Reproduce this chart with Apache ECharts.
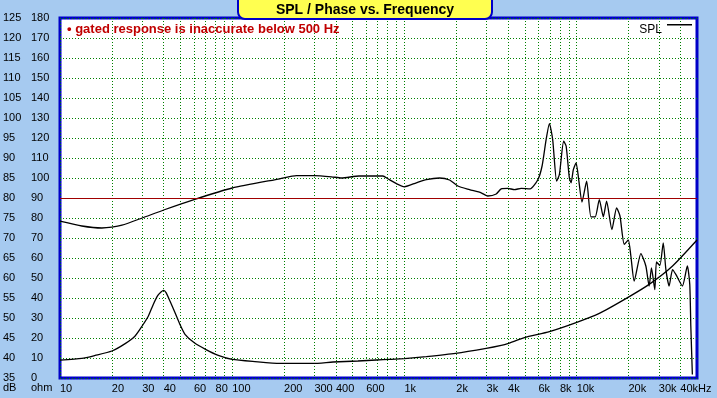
<!DOCTYPE html>
<html>
<head>
<meta charset="utf-8">
<script src="https://cdn.jsdelivr.net/npm/echarts@6.0.0/dist/echarts.min.js"></script>
<style>
html, body { margin: 0; padding: 0; background: #a6caf0; }
#chart { width: 717px; height: 398px; }
</style>
</head>
<body>
<div id="chart"></div>
<script>
// SPL curve (dB, left axis)
const splFreq = [10, 13.4, 17.5, 20, 22.9, 30, 40, 60, 100, 189, 236, 300, 377, 431, 545, 750, 802, 898, 1000, 1172, 1340, 1600, 1828, 2042, 2388, 2792, 3050, 3413, 3648, 3981, 4355, 4764, 5370, 5942, 6300, 6650, 6950, 7260, 7656, 7943, 8410, 8690, 9075, 9290, 9570, 9930, 10280, 10740, 11430, 12110, 12820, 13540, 14290, 14930, 16030, 17060, 17850, 18910, 19950, 20650, 21590, 23610, 25230, 26370, 27200, 28450, 29090, 30430, 31840, 32990, 34450, 36060, 37670, 41120, 43950, 45390, 46030, 46990]
const splDb = [74.2, 73.0, 72.5, 72.7, 73.2, 75.0, 77.0, 79.6, 82.5, 84.8, 85.6, 85.6, 85.3, 85.0, 85.5, 85.5, 84.8, 83.6, 82.8, 83.8, 84.6, 85.0, 84.5, 83.0, 82.1, 81.3, 80.5, 81.0, 82.3, 82.4, 82.1, 82.4, 82.3, 84.5, 88.0, 94.6, 98.6, 94.6, 84.2, 85.9, 94.2, 93.0, 85.0, 83.8, 87.1, 88.8, 84.6, 79.0, 84.2, 75.3, 75.3, 79.6, 75.3, 79.2, 72.1, 77.5, 75.5, 68.4, 69.5, 65.5, 59.2, 66.1, 63.0, 58.0, 62.5, 57.1, 64.0, 63.1, 68.8, 62.1, 58.0, 62.1, 60.9, 58.0, 63.0, 58.4, 48, 35.9]

// second curve (ohm, inner left axis)
const ohmFreq = [10, 13.4, 16, 20, 23.9, 27.3, 30, 32.6, 34.8, 37, 38.6, 40, 41.3, 43.5, 46.5, 49.7, 53.2, 60, 70, 83, 100, 135.5, 189, 295, 385, 537, 687, 821, 1000, 1340, 1980, 2985, 3648, 3981, 4977, 6950, 9930, 13540, 19770, 26370, 36060, 50000]
const ohmVal = [8.9, 9.8, 11.3, 13.5, 17.2, 21, 26, 31, 36.8, 41.3, 43, 43.8, 42.7, 38.5, 32.7, 26.8, 21.8, 17.7, 14.3, 11.3, 9.3, 8.2, 7.3, 7.3, 8.0, 8.5, 9.0, 9.3, 9.7, 10.7, 12.3, 14.8, 16.3, 17.2, 20.2, 23.2, 27.7, 32.3, 40.2, 46.8, 56, 69]

const freqLabels = [10, 20, 30, 40, 60, 80, 100, 200, 300, 400, 600, 1000, 2000, 3000, 4000, 6000, 8000, 10000, 20000, 30000, 40000]
const freqGrid = [10, 20, 30, 40, 50, 60, 70, 80, 90, 100, 200, 300, 400, 500, 600, 700, 800, 900, 1000, 2000, 3000, 4000, 5000, 6000, 7000, 8000, 9000, 10000, 20000, 30000, 40000]

const font = "'Liberation Sans', Arial, sans-serif"
const green = '#008000'

const chart = echarts.init(document.getElementById('chart'))
chart.setOption({
  animation: false,
  backgroundColor: '#a6caf0',
  grid: {
    left: 60,
    right: 20,
    top: 18,
    bottom: 20,
    show: true,
    backgroundColor: '#ffffff',
    borderColor: '#0000c8',
    borderWidth: 3,
    outerBoundsMode: 'none'
  },
  graphic: [
    {
      type: 'rect',
      shape: { x: 238, y: -10, width: 254, height: 29, r: 7 },
      style: { fill: '#ffff50', stroke: '#0000c8', lineWidth: 2 },
      z: 100
    },
    {
      type: 'text',
      x: 365,
      y: 10,
      style: {
        text: 'SPL / Phase vs. Frequency',
        align: 'center',
        verticalAlign: 'middle',
        font: 'bold 14px ' + font,
        fill: '#000'
      },
      z: 101
    },
    {
      type: 'text',
      x: 67,
      y: 29,
      style: {
        text: '• gated response is inaccurate below 500 Hz',
        verticalAlign: 'middle',
        font: 'bold 13px ' + font,
        fill: '#c00000'
      },
      z: 100
    },
    {
      type: 'text',
      x: 3,
      y: 388,
      style: { text: 'dB', verticalAlign: 'middle', font: '11px ' + font, fill: '#000' }
    },
    {
      type: 'text',
      x: 31,
      y: 388,
      style: { text: 'ohm', verticalAlign: 'middle', font: '11px ' + font, fill: '#000' }
    }
  ],
  legend: {
    right: 25,
    top: 24,
    padding: 0,
    align: 'right',
    icon: 'path://M0,0H25V1.4H0Z M0,12H0.01V12.01H0Z',
    itemWidth: 25,
    itemHeight: 14,
    data: ['SPL'],
    textStyle: { fontSize: 12, color: '#000', fontFamily: font }
  },
  xAxis: {
    type: 'log',
    logBase: 10,
    min: 10,
    max: 50000,
    axisLine: { show: false },
    axisTick: { show: false, customValues: freqGrid },
    axisLabel: {
      customValues: freqLabels,
      align: 'left',
      margin: 5,
      fontSize: 11,
      color: '#000',
      fontFamily: font,
      formatter: v => {
        v = Math.round(v)
        if (v === 40000) return '40kHz'
        return v >= 1000 ? v / 1000 + 'k' : String(v)
      }
    },
    splitLine: { show: true, lineStyle: { color: green, type: [1, 2], width: 1 } }
  },
  yAxis: [
    {
      type: 'value',
      min: 35,
      max: 125,
      interval: 5,
      position: 'left',
      axisLine: { show: false },
      axisTick: { show: false },
      axisLabel: { align: 'left', margin: 57, fontSize: 11, color: '#000', fontFamily: font },
      splitLine: { show: true, lineStyle: { color: green, type: [1, 2], width: 1 } }
    },
    {
      type: 'value',
      min: 0,
      max: 180,
      interval: 10,
      position: 'left',
      axisLine: { show: false },
      axisTick: { show: false },
      axisLabel: { align: 'left', margin: 29, fontSize: 11, color: '#000', fontFamily: font },
      splitLine: { show: false }
    }
  ],
  series: [
    {
      name: 'SPL',
      type: 'line',
      yAxisIndex: 0,
      color: '#000',
      symbol: 'none',
      smooth: 0.2,
      lineStyle: { color: '#000', width: 1.3 },
      data: splFreq.map((f, i) => [f, splDb[i]]),
      markLine: {
        silent: true,
        symbol: 'none',
        label: { show: false },
        lineStyle: { color: '#a00000', type: 'solid', width: 1 },
        data: [{ yAxis: 80 }]
      }
    },
    {
      name: 'ohm',
      type: 'line',
      yAxisIndex: 1,
      color: '#000',
      symbol: 'none',
      smooth: 0.2,
      lineStyle: { color: '#000', width: 1.3 },
      data: ohmFreq.map((f, i) => [f, ohmVal[i]])
    }
  ]
})
</script>
</body>
</html>
